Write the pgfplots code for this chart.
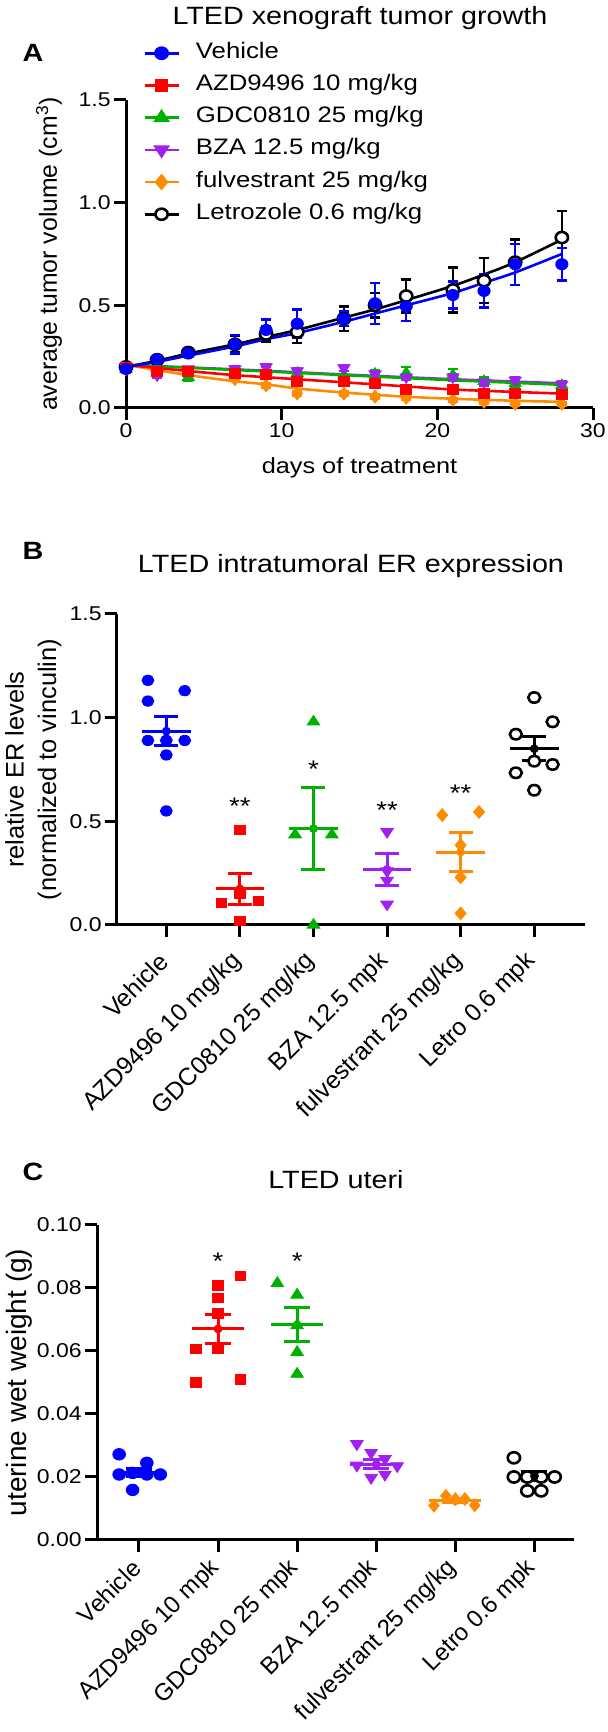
\documentclass[border=0pt]{standalone}
\usepackage{pgfplots}
\usepackage{pgfplotstable}
\pgfplotsset{compat=1.18}
\usepackage{fontspec}
\setmainfont[FakeStretch=1.15]{Liberation Sans}
\newfontfamily\rotfont{Liberation Sans}
\definecolor{cblue}{RGB}{0,0,255}
\definecolor{cred}{RGB}{255,0,0}
\definecolor{cgreen}{RGB}{0,178,0}
\definecolor{cpurple}{RGB}{160,32,240}
\definecolor{corange}{RGB}{255,140,0}

\pgfplotstableread{
day veh vehe azd azde gdc gdce bza bzae ful fule let lete
0 0.19 0.01 0.20 0.01 0.19 0.02 0.20 0.01 0.19 0.01 0.20 0.01
2 0.237 0.01 0.18 0.02 0.20 0.02 0.16 0.015 0.18 0.01 0.235 0.01
4 0.266 0.015 0.18 0.02 0.15 0.02 0.19 0.01 0.17 0.01 0.27 0.015
7 0.31 0.045 0.17 0.02 0.17 0.02 0.19 0.015 0.14 0.01 0.31 0.04
9 0.38 0.05 0.165 0.02 0.18 0.02 0.20 0.015 0.11 0.01 0.36 0.04
11 0.41 0.07 0.13 0.02 0.17 0.02 0.18 0.015 0.07 0.01 0.37 0.055
14 0.435 0.035 0.13 0.02 0.16 0.02 0.195 0.015 0.07 0.01 0.435 0.06
16 0.51 0.10 0.12 0.02 0.165 0.02 0.165 0.015 0.055 0.01 0.50 0.06
18 0.495 0.07 0.09 0.02 0.17 0.03 0.15 0.015 0.05 0.01 0.545 0.08
21 0.55 0.065 0.09 0.02 0.16 0.03 0.15 0.015 0.04 0.01 0.575 0.11
23 0.57 0.08 0.07 0.02 0.13 0.02 0.125 0.015 0.03 0.01 0.62 0.11
25 0.70 0.10 0.07 0.02 0.12 0.02 0.135 0.015 0.02 0.01 0.71 0.11
28 0.70 0.08 0.065 0.02 0.11 0.015 0.115 0.015 0.02 0.01 0.83 0.13
}\growth

\pgfplotsset{
  gp/.style={scale only axis, clip=false, axis x line*=bottom, axis y line*=left,
    tick align=outside, major tick length=6pt,
    tick style={black, line width=1.5pt},
    axis line style={line width=1.5pt, black},
    /pgf/number format/assume math mode=true,
    tick label style={font=\fontsize{10}{12}\selectfont},
    yticklabel style={inner sep=1.5pt},
    xticklabel style={inner sep=1.5pt},
    label style={font=\fontsize{11}{13}\selectfont},
    minor tick num=0},
  eb/.style={error bars/.cd, y dir=both, y explicit,
    error bar style={line width=1.2pt},
    error mark options={rotate=90, mark size=2.6pt, line width=1.2pt}},
  semB/.style={only marks, mark=none, error bars/.cd, y dir=both, y explicit,
    error bar style={line width=1.5pt},
    error mark options={rotate=90, mark size=6pt, line width=1.5pt}},
  semC/.style={only marks, mark=none, error bars/.cd, y dir=both, y explicit,
    error bar style={line width=1.5pt},
    error mark options={rotate=90, mark size=6.5pt, line width=1.5pt}},
}

\begin{document}
\begin{tikzpicture}
\useasboundingbox (0,0) rectangle (303.5pt,866pt);

% ---------------- Panel A ----------------
\begin{axis}[gp, at={(63pt,662pt)}, anchor=south west,
  width=233.5pt, height=154pt,
  xmin=0, xmax=30, ymin=0, ymax=1.5,
  xtick={0,10,20,30}, ytick={0,0.5,1,1.5},
  yticklabel={\pgfmathprintnumber[fixed,fixed zerofill,precision=1]{\tick}},
  xlabel={days of treatment},
  ylabel={average tumor volume (cm\textsuperscript{3})},
  xlabel style={at={(axis description cs:0.5,-0.195)}, anchor=center},
  ylabel style={at={(axis description cs:-0.165,0.5)}, anchor=center, font=\rotfont\fontsize{12.4}{14}\selectfont},
  legend cell align=left,
  legend style={at={(0.036,1.192)}, anchor=north west, draw=none, fill=none,
    inner sep=0pt, row sep=4.1pt, column sep=7pt,
    font=\fontsize{11.2}{13.4}\selectfont,
    nodes={inner sep=1pt, text height=0.75em, text depth=0.25em}},
]
\addlegendimage{cblue, line width=1.3pt, mark=*, mark size=2.8pt, mark options={xscale=1.1}}
\addlegendentry{Vehicle}
\addlegendimage{cred, line width=1.3pt, mark=square*, mark size=2.5pt, mark options={xscale=1.1}}
\addlegendentry{AZD9496 10 mg/kg}
\addlegendimage{cgreen, line width=1.3pt, mark=triangle*, mark size=3.2pt, mark options={xscale=1.1}}
\addlegendentry{GDC0810 25 mg/kg}
\addlegendimage{cpurple, line width=1.3pt, mark=triangle*, mark size=3.2pt, mark options={xscale=1.1, rotate=180}}
\addlegendentry{BZA 12.5 mg/kg}
\addlegendimage{corange, line width=1.3pt, mark=diamond*, mark size=3.2pt, mark options={xscale=1.1}}
\addlegendentry{fulvestrant 25 mg/kg}
\addlegendimage{black, line width=1.3pt, mark=*, mark size=2.8pt, mark options={fill=white, xscale=1.1}}
\addlegendentry{Letrozole 0.6 mg/kg}

% fitted curves
\addplot[forget plot, black, line width=1.3pt, smooth] coordinates {(0,0.2)(2,0.23)(4,0.265)(7,0.31)(9,0.345)(11,0.38)(14,0.44)(16,0.48)(18,0.525)(21,0.595)(23,0.65)(25,0.71)(28,0.82)};
\addplot[forget plot, corange, line width=1.3pt, smooth] coordinates {(0,0.21)(2,0.185)(4,0.16)(7,0.13)(9,0.115)(11,0.095)(14,0.075)(18,0.055)(21,0.045)(25,0.035)(28,0.03)};
\addplot[forget plot, cpurple, line width=1.3pt, smooth] coordinates {(0,0.21)(7,0.188)(14,0.163)(21,0.14)(28,0.12)};
\addplot[forget plot, cgreen, line width=1.3pt, smooth] coordinates {(0,0.21)(7,0.185)(14,0.16)(21,0.135)(28,0.113)};
\addplot[forget plot, cred, line width=1.3pt, smooth] coordinates {(0,0.21)(4,0.18)(7,0.16)(11,0.14)(14,0.125)(18,0.105)(21,0.09)(25,0.078)(28,0.07)};
\addplot[forget plot, cblue, line width=1.3pt, smooth] coordinates {(0,0.2)(2,0.225)(4,0.255)(7,0.3)(9,0.335)(11,0.365)(14,0.42)(16,0.46)(18,0.5)(21,0.56)(23,0.61)(25,0.66)(28,0.75)};

% data points with error bars
\addplot[forget plot, only marks, black, line width=1.3pt, mark=*, mark size=2.8pt, mark options={fill=white, xscale=1.1}, eb] table[x=day, y=let, y error=lete]{\growth};
\addplot[forget plot, only marks, corange, mark=diamond*, mark size=3.2pt, mark options={xscale=1.1}, eb] table[x=day, y=ful, y error=fule]{\growth};
\addplot[forget plot, only marks, cgreen, mark=triangle*, mark size=3.2pt, mark options={xscale=1.1}, eb] table[x=day, y=gdc, y error=gdce]{\growth};
\addplot[forget plot, only marks, cpurple, mark=triangle*, mark size=3.2pt, mark options={xscale=1.1, rotate=180}, eb] table[x=day, y=bza, y error=bzae]{\growth};
\addplot[forget plot, only marks, cred, mark=square*, mark size=2.5pt, mark options={xscale=1.1}, eb] table[x=day, y=azd, y error=azde]{\growth};
\addplot[forget plot, only marks, cblue, mark=*, mark size=2.8pt, mark options={xscale=1.1}, eb] table[x=day, y=veh, y error=vehe]{\growth};
\end{axis}

% ---------------- Panel B ----------------
\begin{axis}[gp, at={(58.5pt,403.5pt)}, anchor=south west,
  width=234pt, height=155.5pt,
  xmin=-0.67, xmax=5.69, ymin=0, ymax=1.5,
  xtick={0,1,2,3,4,5},
  xticklabels={Vehicle, AZD9496 10 mg/kg, GDC0810 25 mg/kg, BZA 12.5 mpk, fulvestrant 25 mg/kg, Letro 0.6 mpk},
  xticklabel style={font=\rotfont\fontsize{12.3}{14}\selectfont, yshift=-9pt, rotate=45, anchor=east},
  ytick={0,0.5,1,1.5},
  yticklabel={\pgfmathprintnumber[fixed,fixed zerofill,precision=1]{\tick}},
  ylabel={relative ER levels\\(normalized to vinculin)},
  ylabel style={align=center, at={(axis description cs:-0.179,0.5)}, anchor=center, font=\rotfont\fontsize{12.7}{16.3}\selectfont},
]
\addplot[only marks, cblue, mark=*, mark size=2.6pt, mark options={xscale=1.15}] coordinates {(-0.25,1.18)(0.25,1.13)(-0.25,1.08)(-0.25,0.89)(0,0.89)(0.25,0.89)(0,0.82)(0,0.55)};
\addplot[only marks, cred, mark=square*, mark size=2.3pt, mark options={xscale=1.15}] coordinates {(1,0.46)(0.75,0.106)(1.25,0.118)(1,0.15)(1,0.02)};
\addplot[only marks, cgreen, mark=triangle*, mark size=3.2pt, mark options={xscale=1.15}] coordinates {(2,0.98)(1.75,0.435)(2.25,0.435)(2,0.0)};
\addplot[only marks, cpurple, mark=triangle*, mark size=3.2pt, mark options={xscale=1.15, rotate=180}] coordinates {(3,0.45)(3,0.26)(3,0.215)(3,0.10)};
\addplot[only marks, corange, mark=diamond*, mark size=3.2pt, mark options={xscale=1.15}] coordinates {(3.75,0.53)(4.25,0.545)(4,0.385)(4,0.23)(4,0.056)};
\addplot[only marks, black, line width=1.3pt, mark=*, mark size=2.6pt, mark options={fill=white, xscale=1.15}] coordinates {(5,1.097)(5.25,0.98)(4.75,0.92)(5.25,0.774)(5,0.79)(4.75,0.734)(5,0.65)};
% means
\addplot[cblue, line width=1.5pt] coordinates {(-0.33,0.935)(0.33,0.935)};
\addplot[cred, line width=1.5pt] coordinates {(0.67,0.174)(1.33,0.174)};
\addplot[cgreen, line width=1.5pt] coordinates {(1.67,0.465)(2.33,0.465)};
\addplot[cpurple, line width=1.5pt] coordinates {(2.67,0.268)(3.33,0.268)};
\addplot[corange, line width=1.5pt] coordinates {(3.67,0.352)(4.33,0.352)};
\addplot[black, line width=1.5pt] coordinates {(4.67,0.85)(5.33,0.85)};
% SEM
\addplot[cblue, semB] coordinates {(0,0.935) +- (0,0.07)};
\addplot[cred, semB] coordinates {(1,0.174) +- (0,0.075)};
\addplot[cgreen, semB] coordinates {(2,0.465) +- (0,0.198)};
\addplot[cpurple, semB] coordinates {(3,0.268) +- (0,0.077)};
\addplot[corange, semB] coordinates {(4,0.352) +- (0,0.093)};
\addplot[black, semB] coordinates {(5,0.85) +- (0,0.058)};
\node[font=\fontsize{12}{14}\selectfont, yshift=-2.6pt] at (axis cs:1,0.597) {**};
\node[font=\fontsize{12}{14}\selectfont, yshift=-2.6pt] at (axis cs:2,0.774) {*};
\node[font=\fontsize{12}{14}\selectfont, yshift=-2.6pt] at (axis cs:3,0.58) {**};
\node[font=\fontsize{12}{14}\selectfont, yshift=-2.6pt] at (axis cs:4,0.66) {**};
\end{axis}

% ---------------- Panel C ----------------
\begin{axis}[gp, at={(48.5pt,96pt)}, anchor=south west,
  width=238.5pt, height=157.5pt,
  xmin=-0.53, xmax=5.5, ymin=0, ymax=0.1,
  xtick={0,1,2,3,4,5},
  xticklabels={Vehicle, AZD9496 10 mpk, GDC0810 25 mpk, BZA 12.5 mpk, fulvestrant 25 mg/kg, Letro 0.6 mpk},
  xticklabel style={font=\rotfont\fontsize{12}{14}\selectfont, yshift=-5pt, rotate=45, anchor=east},
  ytick={0,0.02,0.04,0.06,0.08,0.1},
  yticklabel={\pgfmathprintnumber[fixed,fixed zerofill,precision=2]{\tick}},
  ylabel={uterine wet weight (g)},
  ylabel style={at={(axis description cs:-0.163,0.5)}, anchor=center, font=\rotfont\fontsize{14}{16}\selectfont},
]
\addplot[only marks, cblue, mark=*, mark size=2.9pt, mark options={xscale=1.1}] coordinates {(-0.25,0.0272)(0.1,0.0245)(-0.25,0.0208)(-0.08,0.0213)(0.1,0.0208)(0.27,0.0208)(-0.08,0.0159)};
\addplot[only marks, cred, mark=square*, mark size=2.4pt, mark options={xscale=1.1}] coordinates {(1.28,0.0839)(1,0.0809)(1,0.0768)(1,0.072)(0.72,0.0607)(1,0.0607)(0.72,0.0501)(1.28,0.0509)};
\addplot[only marks, cgreen, mark=triangle*, mark size=3.3pt, mark options={xscale=1.1}] coordinates {(1.75,0.0815)(2,0.0778)(2,0.0681)(2,0.0596)(2,0.0527)};
\addplot[only marks, cpurple, mark=triangle*, mark size=3.3pt, mark options={xscale=1.1, rotate=180}] coordinates {(2.755,0.0305)(2.935,0.0277)(3.11,0.0258)(2.755,0.0237)(3.265,0.0235)(2.935,0.0198)(3.11,0.0208)};
\addplot[only marks, corange, mark=diamond*, mark size=3.2pt, mark options={xscale=1.1}] coordinates {(3.73,0.0109)(3.88,0.014)(4,0.013)(4.12,0.013)(4.245,0.011)};
\addplot[only marks, black, line width=1.3pt, mark=*, mark size=2.8pt, mark options={fill=white, xscale=1.1}] coordinates {(4.74,0.0261)(4.74,0.02)(4.91,0.02)(5.085,0.02)(5.255,0.02)(4.91,0.0156)(5.085,0.0156)};
% means
\addplot[cblue, line width=1.5pt] coordinates {(-0.33,0.0214)(0.33,0.0214)};
\addplot[cred, line width=1.5pt] coordinates {(0.67,0.067)(1.33,0.067)};
\addplot[cgreen, line width=1.5pt] coordinates {(1.67,0.0683)(2.33,0.0683)};
\addplot[cpurple, line width=1.5pt] coordinates {(2.67,0.024)(3.33,0.024)};
\addplot[corange, line width=1.5pt] coordinates {(3.67,0.0124)(4.33,0.0124)};
\addplot[black, line width=1.5pt] coordinates {(4.67,0.0203)(5.33,0.0203)};
% SEM
\addplot[cblue, semC] coordinates {(0,0.0214) +- (0,0.0014)};
\addplot[cred, semC] coordinates {(1,0.067) +- (0,0.0046)};
\addplot[cgreen, semC] coordinates {(2,0.0683) +- (0,0.0054)};
\addplot[cpurple, semC] coordinates {(3,0.024) +- (0,0.0014)};
\addplot[corange, semC] coordinates {(4,0.0124) +- (0,0.0006)};
\addplot[black, semC] coordinates {(5,0.0203) +- (0,0.0013)};
\node[font=\fontsize{12}{14}\selectfont, yshift=-2.6pt] at (axis cs:1,0.09) {*};
\node[font=\fontsize{12}{14}\selectfont, yshift=-2.6pt] at (axis cs:2,0.09) {*};
\end{axis}

% titles and panel letters
\node[font=\fontsize{12.5}{15}\selectfont] at (180pt,857pt) {LTED xenograft tumor growth};
\node[font=\bfseries\fontsize{12.5}{15}\selectfont] at (16.5pt,839.5pt) {A};
\node[font=\fontsize{12.5}{15}\selectfont] at (175.5pt,583pt) {LTED intratumoral ER expression};
\node[font=\bfseries\fontsize{12.5}{15}\selectfont] at (16.5pt,590.5pt) {B};
\node[font=\fontsize{12.5}{15}\selectfont] at (168pt,276pt) {LTED uteri};
\node[font=\bfseries\fontsize{12.5}{15}\selectfont] at (16.5pt,280pt) {C};
\end{tikzpicture}
\end{document}
